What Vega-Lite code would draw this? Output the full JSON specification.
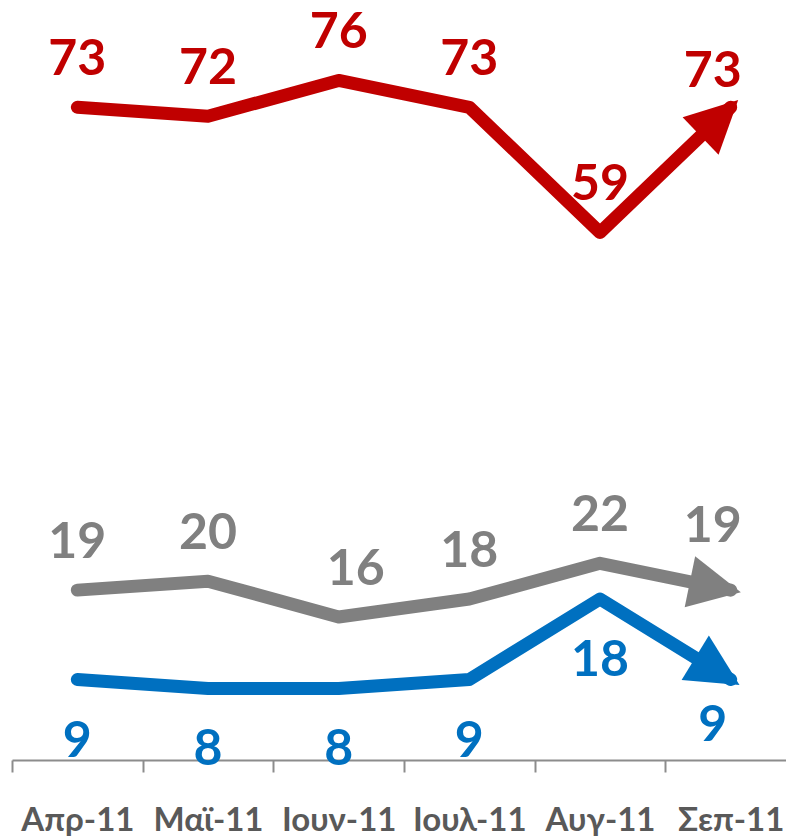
{
  "$schema": "https://vega.github.io/schema/vega-lite/v6.json",
  "autosize": {"type": "none"},
  "width": 784,
  "height": 760,
  "padding": {"left": 12, "top": 0, "right": 0, "bottom": 76},
  "config": {"view": {"stroke": null}},
  "data": {"values": [
    {"month": "Απρ-11", "series": "s1", "value": 73},
    {"month": "Μαϊ-11", "series": "s1", "value": 72},
    {"month": "Ιουν-11", "series": "s1", "value": 76},
    {"month": "Ιουλ-11", "series": "s1", "value": 73},
    {"month": "Αυγ-11", "series": "s1", "value": 59},
    {"month": "Σεπ-11", "series": "s1", "value": 73},
    {"month": "Απρ-11", "series": "s2", "value": 19},
    {"month": "Μαϊ-11", "series": "s2", "value": 20},
    {"month": "Ιουν-11", "series": "s2", "value": 16},
    {"month": "Ιουλ-11", "series": "s2", "value": 18},
    {"month": "Αυγ-11", "series": "s2", "value": 22},
    {"month": "Σεπ-11", "series": "s2", "value": 19},
    {"month": "Απρ-11", "series": "s3", "value": 9},
    {"month": "Μαϊ-11", "series": "s3", "value": 8},
    {"month": "Ιουν-11", "series": "s3", "value": 8},
    {"month": "Ιουλ-11", "series": "s3", "value": 9},
    {"month": "Αυγ-11", "series": "s3", "value": 18},
    {"month": "Σεπ-11", "series": "s3", "value": 9}
  ]},
  "encoding": {
    "x": {
      "field": "month", "type": "nominal",
      "sort": ["Απρ-11", "Μαϊ-11", "Ιουν-11", "Ιουλ-11", "Αυγ-11", "Σεπ-11"],
      "scale": {"type": "band", "paddingInner": 0, "paddingOuter": 0},
      "bandPosition": 0.5,
      "axis": {
        "title": null,
        "tickBand": "extent",
        "domainColor": "#8c8c8c", "domainWidth": 2,
        "tickColor": "#8c8c8c", "tickWidth": 2, "tickSize": 12,
        "labelFont": "Lato", "labelFontSize": 33, "labelFontWeight": "bold",
        "labelColor": "#595959", "labelPadding": 32, "labelAngle": 0,
        "labelLimit": 300, "labelOverlap": false, "grid": false
      }
    },
    "y": {"field": "value", "type": "quantitative", "scale": {"domain": [0, 85], "nice": false}, "axis": null},
    "color": {"field": "series", "type": "nominal", "scale": {"domain": ["s1", "s2", "s3"], "range": ["#C00000", "#808080", "#0070C0"]}, "legend": null}
  },
  "layer": [
    {"mark": {"type": "line", "strokeWidth": 13, "strokeCap": "round", "strokeJoin": "round"}, "encoding": {"detail": {"field": "series"}}},
    {"transform": [{"filter": "datum.series === 's1' && datum.month === 'Σεπ-11'"}],
     "mark": {"type": "point", "shape": "M0.4,0L-1.6,-1L-1.6,1Z", "filled": true, "opacity": 1, "size": 2704, "angle": 316.3}},
    {"transform": [{"filter": "datum.series === 's2' && datum.month === 'Σεπ-11'"}],
     "mark": {"type": "point", "shape": "M0.4,0L-1.6,-1L-1.6,1Z", "filled": true, "opacity": 1, "size": 2704, "angle": 11.6}},
    {"transform": [{"filter": "datum.series === 's3' && datum.month === 'Σεπ-11'"}],
     "mark": {"type": "point", "shape": "M0.4,0L-1.6,-1L-1.6,1Z", "filled": true, "opacity": 1, "size": 2704, "angle": 31.6}},
    {"transform": [{"filter": "datum.series !== 's3' && datum.month !== 'Σεπ-11' && !(datum.series === 's2' && datum.month === 'Ιουν-11')"}],
     "mark": {"type": "text", "font": "Lato", "fontSize": 50, "fontWeight": "bold", "baseline": "alphabetic", "align": "center", "dy": -32},
     "encoding": {"text": {"field": "value", "type": "quantitative"}}},
    {"transform": [{"filter": "datum.series === 's2' && datum.month === 'Ιουν-11'"}],
     "mark": {"type": "text", "font": "Lato", "fontSize": 50, "fontWeight": "bold", "baseline": "alphabetic", "align": "center", "dx": 17, "dy": -32},
     "encoding": {"text": {"field": "value", "type": "quantitative"}}},
    {"transform": [{"filter": "datum.series === 's3' && datum.month !== 'Σεπ-11'"}],
     "mark": {"type": "text", "font": "Lato", "fontSize": 50, "fontWeight": "bold", "baseline": "alphabetic", "align": "center", "dy": 77},
     "encoding": {"text": {"field": "value", "type": "quantitative"}}},
    {"transform": [{"filter": "datum.series === 's1' && datum.month === 'Σεπ-11'"}],
     "mark": {"type": "text", "font": "Lato", "fontSize": 50, "fontWeight": "bold", "baseline": "alphabetic", "align": "center", "dx": -18, "dy": -20},
     "encoding": {"text": {"field": "value", "type": "quantitative"}}},
    {"transform": [{"filter": "datum.series === 's2' && datum.month === 'Σεπ-11'"}],
     "mark": {"type": "text", "font": "Lato", "fontSize": 50, "fontWeight": "bold", "baseline": "alphabetic", "align": "center", "dx": -18, "dy": -48},
     "encoding": {"text": {"field": "value", "type": "quantitative"}}},
    {"transform": [{"filter": "datum.series === 's3' && datum.month === 'Σεπ-11'"}],
     "mark": {"type": "text", "font": "Lato", "fontSize": 50, "fontWeight": "bold", "baseline": "alphabetic", "align": "center", "dx": -18, "dy": 61},
     "encoding": {"text": {"field": "value", "type": "quantitative"}}}
  ]
}
